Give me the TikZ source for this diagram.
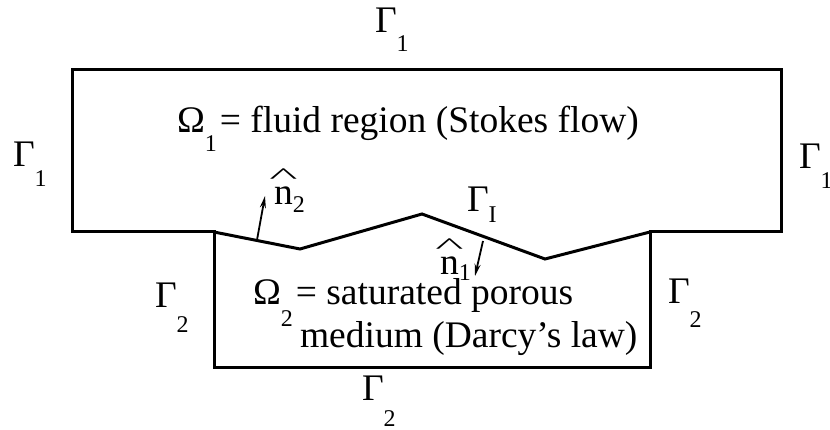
\documentclass[tikz,border=0pt]{standalone}
\usepackage{fontspec}
\usepackage{graphicx}
\setmainfont{Liberation Serif}
\usetikzlibrary{arrows.meta}
\newcommand\sbs[2][21pt]{\lower#1\hbox{\fontsize{24}{24}\selectfont #2}}
\newcommand\nhat[2][7pt]{\rlap{\hbox to 0.5em{\hss\raisebox{0.57em}{\scalebox{1.6}[0.6]{\char"5E}}\hss}}n\sbs[#1]{#2}}
\tikzset{
  bnd/.style={line width=3pt, line join=miter},
  lbl/.style={anchor=base west, inner sep=0pt, outer sep=0pt, font=\fontsize{37.5}{40}\selectfont},
  nrm/.style={line width=1.8pt, -{Stealth[length=12pt,width=6pt]}}
}
\begin{document}
\begin{tikzpicture}[x=1pt,y=-1pt]
\useasboundingbox (0,0) rectangle (830,430);
% domain outline
\draw[bnd] (214,232) -- (72,232) -- (72,70) -- (781,70) -- (781,232) -- (650,232)
  -- (650,367) -- (214,367) -- cycle;
% interface
\draw[bnd] (214,232) -- (300,249) -- (422,214) -- (545,259) -- (650,232);
% normals
\coordinate (n2a) at (257,240);
\coordinate (n2b) at (265,196);
\coordinate (n1a) at (483,241);
\coordinate (n1b) at (475,276);
\draw[nrm] (n2a) -- (n2b);
\draw[nrm] (n1a) -- (n1b);
% boundary labels
\node[lbl] (g1t) at (375,33) {Γ\sbs[19pt]{1}};
\node[lbl] (g1l) at (13,167) {Γ\sbs[20pt]{1}};
\node[lbl] (g1r) at (799,169) {Γ\sbs[20pt]{1}};
\node[lbl] (g2l) at (155,308) {Γ\sbs[25pt]{2}};
\node[lbl] (g2r) at (668,304) {Γ\sbs[24pt]{2}};
\node[lbl] (g2b) at (362,400) {Γ\sbs[26pt]{2}};
\node[lbl] (gi) at (467,212) {Γ\sbs[11pt]{I}};
% normal labels
\node[lbl] (ln2) at (274,205) {\nhat[8pt]{2}};
\node[lbl] (lnn1) at (440,275) {\nhat[6pt]{1}};
% region labels
\node[lbl] (om1) at (177,133) {Ω\sbs[19pt]{1}\kern3pt= fluid region (Stokes flow)};
\node[lbl] (om2) at (253,305) {Ω\sbs[22pt]{2}\kern3pt= saturated porous};
\node[lbl] (om2b) at (300,347) {medium (Darcy’s law)};
\end{tikzpicture}
\end{document}
